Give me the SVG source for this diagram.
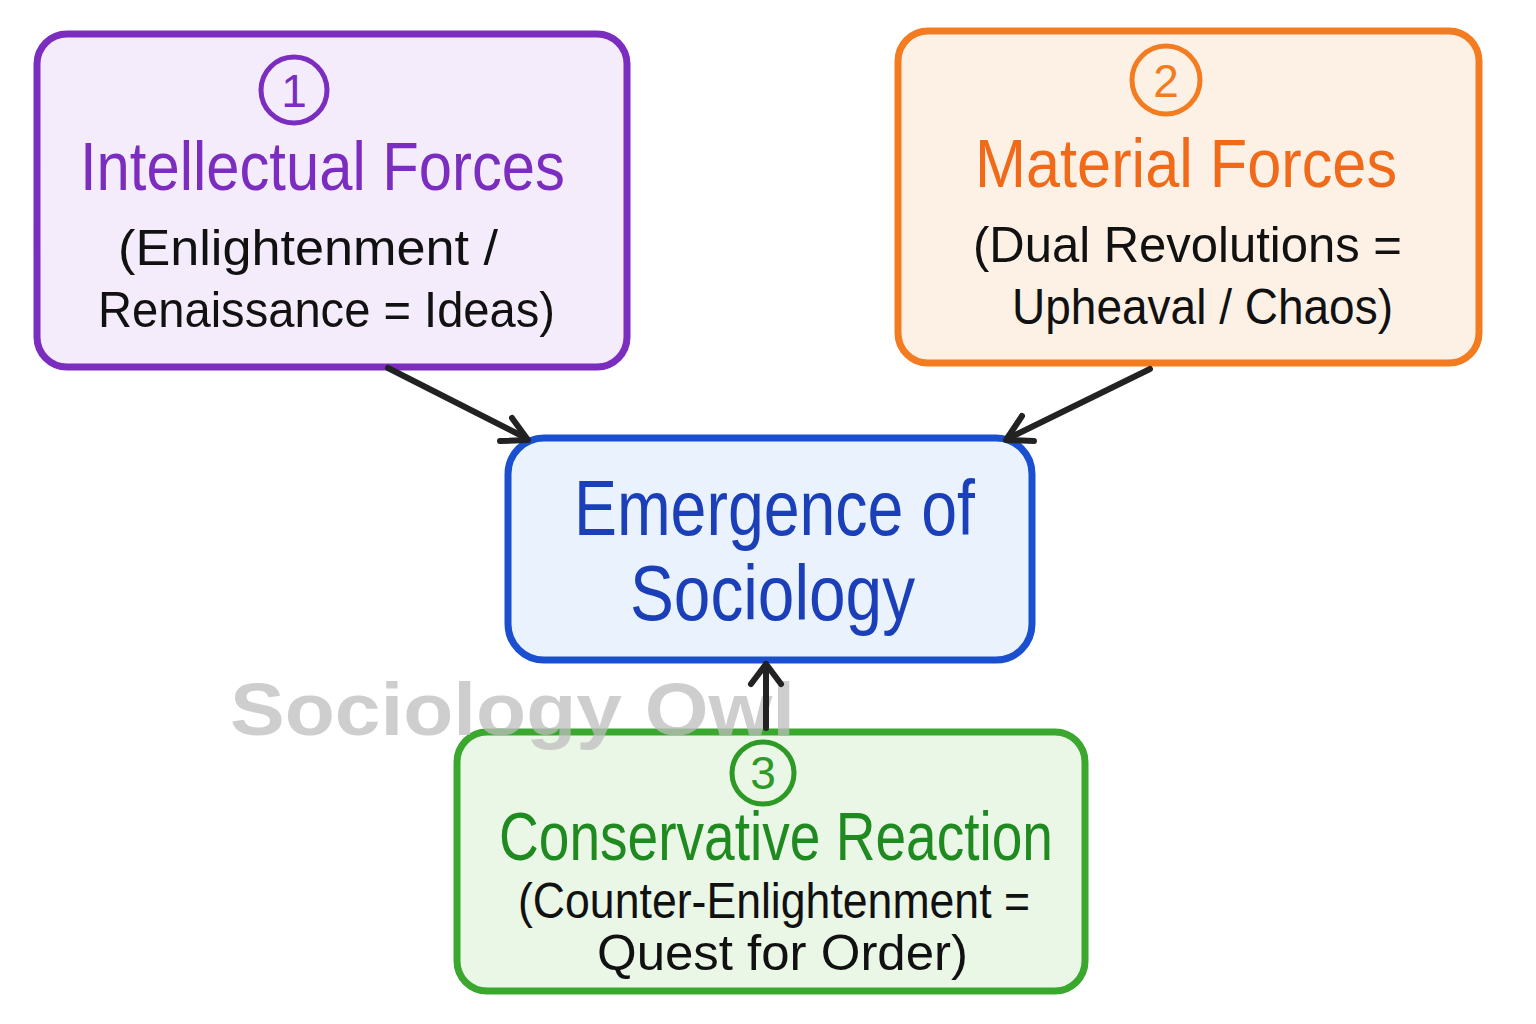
<svg xmlns="http://www.w3.org/2000/svg" width="1536" height="1024" viewBox="0 0 1536 1024">
<style>
.t{font-family:"Liberation Sans","DejaVu Sans",sans-serif;}
.title{font-size:68px;}
.sub{font-size:50px;fill:#111;}
.num{font-size:46px;text-anchor:middle;}
.box{stroke-width:7;stroke-linejoin:round;}
.conn{stroke:#222;stroke-width:6;fill:none;stroke-linecap:round;stroke-linejoin:round;}
</style>
<rect width="1536" height="1024" fill="#ffffff"/>
<g id="node1">
<rect class="box" x="37" y="34" width="590" height="333" rx="30" fill="#f4ecfb" stroke="#7a2dbf"/>
<circle cx="294" cy="90" r="33" fill="none" stroke="#7a2dbf" stroke-width="5"/>
<text class="t num" x="294" y="107" fill="#7a2dbf">1</text>
<text class="t title" x="80" y="190" fill="#7a2dbf" textLength="485" lengthAdjust="spacingAndGlyphs">Intellectual Forces</text>
<text class="t sub" x="118" y="265" textLength="380" lengthAdjust="spacingAndGlyphs">(Enlightenment /</text>
<text class="t sub" x="98" y="327" textLength="457" lengthAdjust="spacingAndGlyphs">Renaissance = Ideas)</text>
</g>
<g id="node2">
<rect class="box" x="898" y="31" width="581" height="332" rx="30" fill="#fdf1e6" stroke="#f47c20"/>
<circle cx="1166" cy="80" r="34" fill="none" stroke="#f47c20" stroke-width="5"/>
<text class="t num" x="1166" y="97" fill="#f47c20">2</text>
<text class="t title" x="975" y="187" fill="#f06a1a" textLength="422" lengthAdjust="spacingAndGlyphs">Material Forces</text>
<text class="t sub" x="973" y="262" textLength="429" lengthAdjust="spacingAndGlyphs">(Dual Revolutions =</text>
<text class="t sub" x="1012" y="324" textLength="381" lengthAdjust="spacingAndGlyphs">Upheaval / Chaos)</text>
</g>
<g id="node3">
<rect class="box" x="508" y="438" width="524" height="222" rx="36" fill="#eaf2fd" stroke="#1a4fd0"/>
<text class="t" x="574" y="535" font-size="78" fill="#1a3fb8" textLength="401" lengthAdjust="spacingAndGlyphs">Emergence of</text>
<text class="t" x="630" y="620" font-size="78" fill="#1a3fb8" textLength="285" lengthAdjust="spacingAndGlyphs">Sociology</text>
</g>
<g id="node4">
<rect class="box" x="457" y="732" width="628" height="259" rx="30" fill="#eaf6e6" stroke="#3aa82e"/>
<circle cx="763" cy="773" r="31" fill="none" stroke="#2e9a26" stroke-width="5"/>
<text class="t num" x="763" y="789" fill="#2e9a26">3</text>
<text class="t title" x="499" y="860" fill="#1f8a1f" textLength="554" lengthAdjust="spacingAndGlyphs">Conservative Reaction</text>
<text class="t sub" x="518" y="918" font-size="46" textLength="512" lengthAdjust="spacingAndGlyphs">(Counter-Enlightenment =</text>
<text class="t sub" x="597" y="970" font-size="46" textLength="371" lengthAdjust="spacingAndGlyphs">Quest for Order)</text>
</g>
<text class="t" x="230" y="735" font-size="74" font-weight="bold" fill="#bdbdbd" fill-opacity="0.75" textLength="565" lengthAdjust="spacingAndGlyphs">Sociology Owl</text>
<g id="connectors">
<line class="conn" x1="388" y1="368" x2="526" y2="438"/>
<path class="conn" d="M512,418 L528,440 L500,441"/>
<line class="conn" x1="1150" y1="369" x2="1009" y2="438"/>
<path class="conn" d="M1022,416 L1006,440 L1034,441"/>
<line class="conn" x1="766" y1="728" x2="766" y2="664"/>
<path class="conn" d="M751,684 L766,664 L781,684"/>
</g>
</svg>
